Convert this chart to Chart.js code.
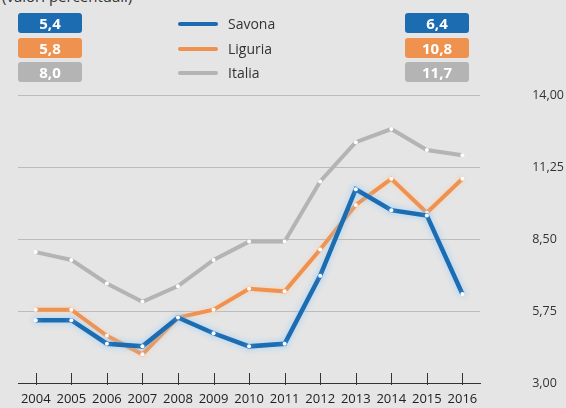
<!DOCTYPE html>
<html lang="it">
<head>
<meta charset="utf-8" />
<title>Tasso di disoccupazione</title>
<script src="https://cdn.jsdelivr.net/npm/chart.js"></script>
<style>
    html, body { margin: 0; padding: 0; }
    body { width: 566px; height: 408px; background: #e5e5e5; position: relative; overflow: hidden; font-family: "Open Sans", sans-serif; }
    #titolo { position: absolute; left: 2px; top: -14px; font-size: 15px; color: #333; }
    #grafico { position: absolute; left: 0; top: 0; }
    .badge { position: absolute; width: 64px; height: 20px; line-height: 20px; border-radius: 3px; color: #fff; font-weight: bold; font-size: 15px; text-align: center; }
    .voce { position: absolute; left: 178px; font-size: 14px; color: #333; }
    .voce span.linea { position: absolute; left: 0; top: 8px; width: 40px; height: 4px; border-radius: 2px; }
    .voce span.nome { position: absolute; left: 50px; top: 0; white-space: nowrap; }
</style>
</head>
<body>

<div id="titolo">(valori percentuali)</div>
<canvas id="grafico" width="566" height="408"></canvas>
<div id="legenda"></div>

<script>
    // dati
    const anni = ['2004', '2005', '2006', '2007', '2008', '2009', '2010', '2011', '2012', '2013', '2014', '2015', '2016'];
    const savona = [5.4, 5.4, 4.5, 4.4, 5.5, 4.9, 4.4, 4.5, 7.1, 10.4, 9.6, 9.4, 6.4];
    const liguria = [5.8, 5.8, 4.8, 4.1, 5.5, 5.8, 6.6, 6.5, 8.1, 9.8, 10.8, 9.5, 10.8];
    const italia = [8.0, 7.7, 6.8, 6.1, 6.7, 7.7, 8.4, 8.4, 10.7, 12.2, 12.7, 11.9, 11.7];
    const nomi = ['Savona', 'Liguria', 'Italia'];
    const colori = ['#1c6cb2', '#f0924f', '#b4b4b4'];
    const yMin = 3, yMax = 14, yPasso = 2.75;

    const serie = [savona, liguria, italia];

    function virgola(v, dec) {
        return v.toFixed(dec).replace('.', ',');
    }

    // etichette laterali (primo e ultimo anno) e legenda
    const legenda = document.getElementById('legenda');
    serie.forEach(function (s, i) {
        const top = 13 + i * 24.5;

        const sx = document.createElement('div');
        sx.className = 'badge';
        sx.style.left = '18px';
        sx.style.top = top + 'px';
        sx.style.background = colori[i];
        sx.innerText = virgola(s[0], 1);
        legenda.appendChild(sx);

        const dx = document.createElement('div');
        dx.className = 'badge';
        dx.style.left = '405px';
        dx.style.top = top + 'px';
        dx.style.background = colori[i];
        dx.innerText = virgola(s[s.length - 1], 1);
        legenda.appendChild(dx);

        const voce = document.createElement('div');
        voce.className = 'voce';
        voce.style.top = (top + 1) + 'px';
        voce.innerHTML = '<span class="linea" style="background:' + colori[i] + '"></span><span class="nome">' + nomi[i] + '</span>';
        legenda.appendChild(voce);
    });

    // alone chiaro attorno alle linee
    const alone = {
        id: 'alone',
        beforeDatasetDraw(chart, args) {
            chart.ctx.save();
            if (args.index === 0) {
                chart.ctx.shadowColor = 'rgba(150, 205, 250, 0.9)';
                chart.ctx.shadowBlur = 6;
            } else if (args.index === 1) {
                chart.ctx.shadowColor = 'rgba(250, 200, 160, 0.6)';
                chart.ctx.shadowBlur = 4;
            }
        },
        afterDatasetDraw(chart) {
            chart.ctx.restore();
        }
    };

    // tacche dell'asse x rivolte verso l'alto
    const tacche = {
        id: 'tacche',
        beforeDatasetsDraw(chart) {
            const x = chart.scales.x;
            const ctx = chart.ctx;
            ctx.save();
            ctx.strokeStyle = '#333';
            ctx.lineWidth = 1;
            x.ticks.forEach(function (t, i) {
                const px = Math.round(x.getPixelForTick(i)) + 0.5;
                ctx.beginPath();
                ctx.moveTo(px, x.top - 10);
                ctx.lineTo(px, x.top + 2);
                ctx.stroke();
            });
            ctx.restore();
        }
    };

    const datasets = serie.map(function (s, i) {
        return {
            label: nomi[i],
            data: s,
            borderColor: colori[i],
            borderWidth: i === 0 ? 4.5 : 4,
            pointRadius: 2,
            pointBorderWidth: 0,
            pointBackgroundColor: '#ffffff',
            tension: 0,
            fill: false
        };
    });

    new Chart(document.getElementById('grafico'), {
        type: 'line',
        data: { labels: anni, datasets: datasets },
        plugins: [alone, tacche],
        options: {
            responsive: false,
            animation: false,
            layout: { padding: { top: 95, left: 18, right: 0, bottom: 0 } },
            plugins: {
                legend: { display: false },
                tooltip: { enabled: false }
            },
            scales: {
                x: {
                    offset: true,
                    grid: { offset: false, drawOnChartArea: false, tickLength: 7, tickColor: 'rgba(0,0,0,0)' },
                    border: { display: true, color: '#333', width: 1 },
                    ticks: { color: '#222', font: { family: 'Open Sans', size: 13 }, padding: 1.2, maxRotation: 0, autoSkip: false }
                },
                y: {
                    position: 'right',
                    min: yMin,
                    max: yMax,
                    grid: { color: '#bcbcbc', tickColor: 'rgba(0,0,0,0)', tickLength: 50, lineWidth: 1 },
                    border: { display: false },
                    ticks: {
                        stepSize: yPasso,
                        color: '#333',
                        font: { family: 'Open Sans', size: 12.5 },
                        padding: 2,
                        callback: function (v) { return virgola(v, 2); }
                    }
                }
            }
        }
    });
</script>

</body>
</html>
